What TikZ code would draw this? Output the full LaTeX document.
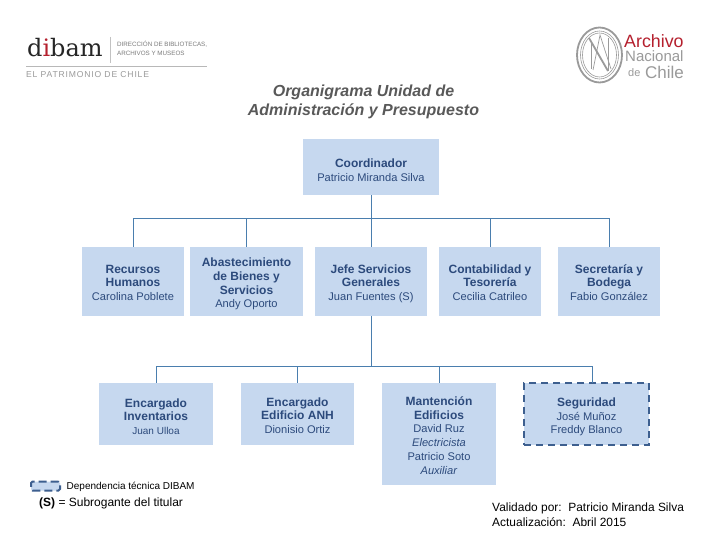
\documentclass[tikz,border=0pt]{standalone}
\usepackage{fontspec}
\setmainfont{Liberation Sans}
\newfontfamily\spacedfont[LetterSpace=9.5]{Liberation Sans}
\newfontfamily\slabfont{DejaVu Serif}
\definecolor{boxfill}{HTML}{C6D8EF}
\definecolor{boxtext}{HTML}{2C4A7C}
\definecolor{linkc}{HTML}{4A7EAE}
\definecolor{dashc}{HTML}{3D5F8F}
\definecolor{greytitle}{HTML}{595959}
\definecolor{logogrey}{HTML}{9A9A9A}
\definecolor{logored}{HTML}{B5202E}
\newcommand{\hd}[1]{{\fontsize{12}{14}\selectfont\bfseries #1}}
\newcommand{\st}[1]{\rule{0pt}{#1}}
\tikzset{
  orgbox/.style={fill=boxfill,text=boxtext,align=center,inner sep=0pt,font=\fontsize{11.1}{13.7}\selectfont},
  dashbox/.style={orgbox,draw=dashc,line width=2pt,dash pattern=on 7pt off 5pt},
  link/.style={draw=linkc,line width=0.9pt},
  ptext/.style={text=black,inner sep=0pt,anchor=west}
}
\begin{document}
\begin{tikzpicture}[x=1pt,y=-1pt]
\useasboundingbox (0,0) rectangle (720,540);
\fill[white] (0,0) rectangle (720,540);
% dibam logo
\node[inner sep=0pt,anchor=west,text=black!85,font={\slabfont\fontsize{24}{25}\selectfont}] (dibamlogo) at (27,48) {d\textcolor{logored}{i}bam};
\draw[logogrey!60,line width=0.5pt] (110.5,37) -- (110.5,63);
\node[inner sep=0pt,anchor=west,text=logogrey!80!black,align=left,font=\fontsize{6.25}{9}\selectfont] (dibamsub) at (117,48) {DIRECCIÓN DE BIBLIOTECAS,\\ARCHIVOS Y MUSEOS};
\draw[logogrey!70,line width=0.5pt] (26,66.5) -- (207,66.5);
\node[inner sep=0pt,anchor=west,text=logogrey,font={\spacedfont\fontsize{8.6}{10}\selectfont}] (patrimonio) at (26,74.5) {EL PATRIMONIO DE CHILE};
% archivo logo
\draw[logogrey,line width=1.8pt] (599.5,55) ellipse [x radius=22.5,y radius=27.5];
\draw[logogrey,line width=0.6pt] (599.5,55) ellipse [x radius=19,y radius=24];
\draw[logogrey,line width=0.6pt] (599.5,55) ellipse [x radius=17,y radius=22];
\draw[logogrey,line width=1.8pt] (589,38) -- (608,71);
\draw[logogrey,line width=0.7pt] (591,41) -- (591,69) (608,38) -- (608,71);
\draw[logogrey,line width=0.7pt] (593,70) -- (600,35) -- (611,69);
\node[inner sep=0pt,anchor=west,text=logored,font=\fontsize{17.8}{19}\selectfont] (archivo) at (624,41) {Archivo};
\node[inner sep=0pt,anchor=west,text=logogrey,font=\fontsize{15}{16}\selectfont] (nacional) at (625,56.5) {Nacional};
\node[inner sep=0pt,anchor=west,text=logogrey,font=\fontsize{11}{12}\selectfont] (de) at (628,73) {de};
\node[inner sep=0pt,anchor=west,text=logogrey,font=\fontsize{17}{18}\selectfont] (chile) at (645,72.5) {Chile};
% title
\node[text=greytitle,align=center,inner sep=0pt,font=\fontsize{16}{19.5}\selectfont\bfseries\itshape] (title) at (363.5,102) {Organigrama Unidad de\\Administración y Presupuesto};
% boxes
\node[orgbox,minimum width=136pt,minimum height=56pt] (coord) at (371,167) {\hd{\st{14.7pt}Coordinador}\\Patricio Miranda Silva};
\node[orgbox,minimum width=102pt,minimum height=69pt] (rh) at (133,281.5) {\hd{\st{10.7pt}Recursos}\\\hd{Humanos}\\Carolina Poblete};
\node[orgbox,minimum width=113pt,minimum height=69pt] (abas) at (246.5,281.5) {\hd{\st{13.7pt}Abastecimiento}\\\hd{de Bienes y}\\\hd{Servicios}\\Andy Oporto};
\node[orgbox,minimum width=112pt,minimum height=69pt] (jefe) at (371,281.5) {\hd{\st{12.7pt}Jefe Servicios}\\\hd{Generales}\\Juan Fuentes (S)};
\node[orgbox,minimum width=102pt,minimum height=69pt] (conta) at (490,281.5) {\hd{\st{10.7pt}Contabilidad y}\\\hd{Tesorería}\\Cecilia Catrileo};
\node[orgbox,minimum width=102pt,minimum height=69pt] (secre) at (609,281.5) {\hd{\st{10.7pt}Secretaría y}\\\hd{Bodega}\\Fabio González};
\node[orgbox,minimum width=114pt,minimum height=62pt] (inv) at (156,414) {\hd{\st{13.7pt}Encargado}\\\hd{Inventarios}\\{\fontsize{10}{12}\selectfont Juan Ulloa}};
\node[orgbox,minimum width=113pt,minimum height=62pt] (anh) at (297.5,414) {\hd{\st{11.7pt}Encargado}\\\hd{Edificio ANH}\\Dionisio Ortiz};
\node[orgbox,minimum width=114pt,minimum height=102pt] (mant) at (439,434) {\hd{\st{11.7pt}Mantención}\\\hd{Edificios}\\David Ruz\\\textit{Electricista}\\Patricio Soto\\\textit{Auxiliar}};
\node[dashbox,minimum width=125pt,minimum height=62pt] (seg) at (586.5,414) {\hd{\st{14.7pt}Seguridad}\\José Muñoz\\Freddy Blanco};
% connectors
\coordinate (busa) at (371,218.5);
\coordinate (busb) at (371,366.5);
\draw[link] (coord.south) -- (busa);
\draw[link] (rh.north) |- (busa) -| (secre.north);
\draw[link] (busa) -- (jefe.north);
\draw[link] (abas.north) -- (abas.north |- busa);
\draw[link] (conta.north) -- (conta.north |- busa);
\draw[link] (jefe.south) -- (busb);
\draw[link] (inv.north) |- (busb);
\coordinate (segtop) at (592,383);
\draw[link] (busb) -| (segtop);
\draw[link] (anh.north) -- (anh.north |- busb);
\draw[link] (mant.north) -- (mant.north |- busb);
% legend
\node[dashbox,minimum width=29pt,minimum height=9pt,dash pattern=on 8pt off 4pt,rounded corners=1.5pt] (legbox) at (45.5,486) {};
\node[ptext,font=\fontsize{10}{11}\selectfont] (legdep) at (66.5,487) {Dependencia técnica DIBAM};
\node[ptext,font=\fontsize{12}{13}\selectfont] (legs) at (39,503) {\textbf{(S)} = Subrogante del titular};
\node[ptext,font=\fontsize{11.95}{15}\selectfont] (valid) at (492,508.5) {Validado por:\ \ Patricio Miranda Silva};
\node[ptext,font=\fontsize{11.95}{15}\selectfont] (actual) at (492,522.5) {Actualización:\ \ Abril 2015};
\end{tikzpicture}
\end{document}
